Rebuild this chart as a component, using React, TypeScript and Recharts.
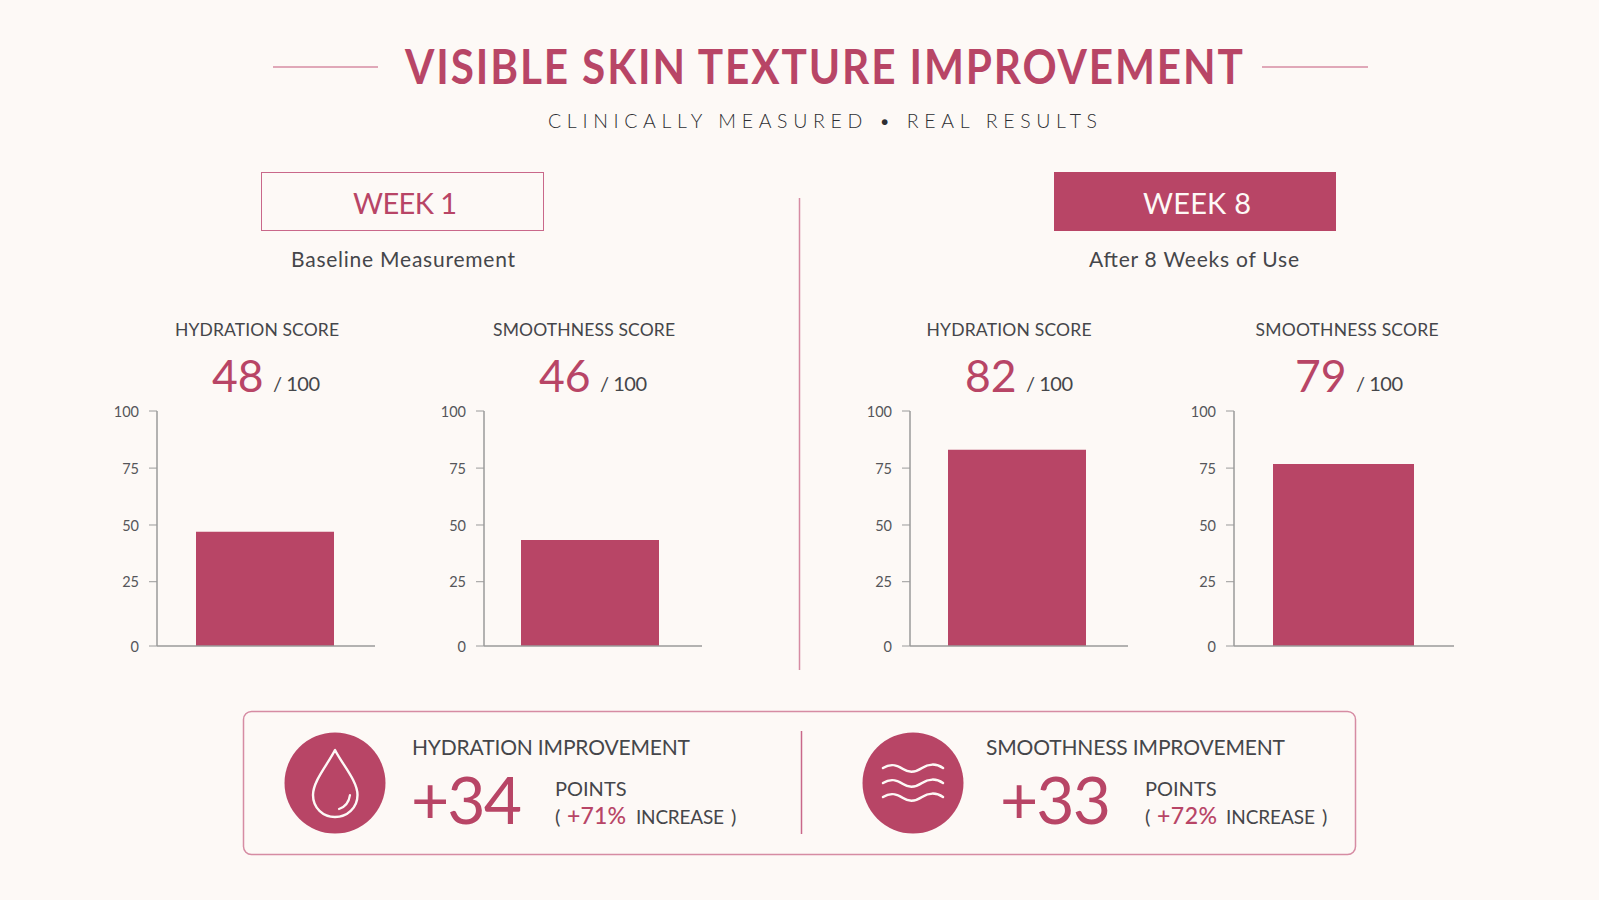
import React from "react";
import { BarChart, Bar, XAxis, YAxis } from "recharts";

const ROSE = "#B84566";
const INK = "#45464A";
const BG = "#FDF9F6";
const FONT = "Lato, 'Open Sans', sans-serif";

const yTicks = [0, 25, 50, 75, 100];
// The reference's axis is not evenly spaced: share of the axis height at each tick.
const tickShares = [0, 0.2736, 0.5149, 0.757, 1];
const chartNames = ["HYDRATION SCORE", "SMOOTHNESS SCORE", "HYDRATION SCORE", "SMOOTHNESS SCORE"];
const scoreLabels = ["48", "46", "82", "79"];
const barValues = [47, 43.4, 83, 76.8];
const axisLefts = [157, 484, 910, 1234];
const plotWidths = [218, 218, 218, 220];
const barShiftPads = [3, 6, 5, 2];
const barSizes = [138, 138, 138, 141];
const nameCenters = [257, 584, 1009, 1347];
const nameWidths = [164, 182, 165, 183];
const scoreLefts = [212, 539, 965, 1295];

function makeScale(dom: number[] = [0, 100], rng: number[] = [0, 1]): any {
  const s: any = (v: number) => {
    const t = ((v - dom[0]) / (dom[1] - dom[0])) * 100;
    let i = 0;
    while (i < yTicks.length - 2 && t > yTicks[i + 1]) i++;
    const f = (t - yTicks[i]) / (yTicks[i + 1] - yTicks[i]);
    const share = tickShares[i] + f * (tickShares[i + 1] - tickShares[i]);
    return rng[0] + share * (rng[1] - rng[0]);
  };
  s.domain = (d?: number[]) => (d ? makeScale(d.map(Number), rng) : dom);
  s.range = (r?: number[]) => (r ? makeScale(dom, r) : rng);
  s.copy = () => makeScale(dom, rng);
  return s;
}

function T({ x, y, size, fill = INK, anchor = "start", weight = 400, len, adjust = "spacing", children }: any) {
  return (
    <text
      x={x}
      y={y}
      fontSize={size}
      fill={fill}
      textAnchor={anchor}
      fontWeight={weight}
      fontFamily={FONT}
      textLength={len}
      lengthAdjust={len ? adjust : undefined}
    >
      {children}
    </text>
  );
}

function MiniChart({ value, left, name, pad, size, plot }: { value: number; left: number; name: string; pad: number; size: number; plot: number }) {
  return (
    <div style={{ position: "absolute", left: left - 60, top: 401 }}>
      <BarChart
        width={plot + 65}
        height={265}
        data={[{ name, value }]}
        margin={{ top: 10, right: 5, bottom: 19, left: 0 }}
      >
        <XAxis
          dataKey="name"
          tick={false}
          tickLine={false}
          height={1}
          padding={{ left: 0, right: pad }}
          axisLine={{ stroke: "#9A9A9A", strokeWidth: 1.5 }}
        />
        <YAxis
          domain={[0, 100]}
          scale={makeScale()}
          ticks={yTicks}
          width={60}
          interval={0}
          tickSize={8}
          tickMargin={10}
          tick={{ fontSize: 14.5, fill: "#55565A", fontFamily: FONT, dy: 0.5 }}
          tickLine={{ stroke: "#9A9A9A" }}
          axisLine={{ stroke: "#9A9A9A", strokeWidth: 1.5 }}
        />
        <Bar dataKey="value" fill={ROSE} barSize={size} isAnimationActive={false} />
      </BarChart>
    </div>
  );
}

export default function App() {
  return (
    <div style={{ position: "absolute", left: 0, top: 0, width: 1599, height: 900, background: BG, overflow: "hidden" }}>
      <svg width={1599} height={900} style={{ position: "absolute", left: 0, top: 0 }}>
        <line x1={273} x2={378} y1={67} y2={67} stroke="#D68CA3" strokeWidth={1.5} />
        <line x1={1262} x2={1368} y1={67} y2={67} stroke="#D68CA3" strokeWidth={1.5} />
        <text
          transform="translate(405 84) scale(0.9 1)"
          fontSize={47}
          fill={ROSE}
          fontWeight={700}
          fontFamily={FONT}
          textLength={931}
          lengthAdjust="spacing"
        >
          VISIBLE SKIN TEXTURE IMPROVEMENT
        </text>
        <T x={548} y={127.5} size={19.5} fill="#2E2F33" weight={300} len={549}>CLINICALLY MEASURED • REAL RESULTS</T>

        <rect x={261.5} y={172.5} width={282} height={58} fill="none" stroke="#C9688A" strokeWidth={1} />
        <rect x={1054} y={172} width={282} height={59} fill={ROSE} />
        <T x={405} y={214} size={29} fill={ROSE} anchor="middle" len={104}>WEEK 1</T>
        <T x={1197} y={214} size={29} fill="#FDF9F6" anchor="middle" len={108}>WEEK 8</T>
        <T x={403} y={267} size={21} anchor="middle" len={224}>Baseline Measurement</T>
        <T x={1194} y={267} size={21} anchor="middle" len={210}>After 8 Weeks of Use</T>
        <line x1={799.5} x2={799.5} y1={198} y2={670} stroke="#D68CA3" strokeWidth={1.5} />

        {chartNames.map((n, i) => (
          <T key={"n" + i} x={nameCenters[i]} y={336} size={17.5} anchor="middle" len={nameWidths[i]}>{n}</T>
        ))}
        {scoreLabels.map((s, i) => (
          <g key={"s" + i}>
            <T x={scoreLefts[i]} y={392} size={44.5} fill={ROSE}>{s}</T>
            <T x={scoreLefts[i] + 61} y={391} size={20} len={47}>/ 100</T>
          </g>
        ))}

        <rect x={243.5} y={711.5} width={1112} height={143} rx={8} fill="none" stroke="#D68CA3" strokeWidth={1.5} />
        <line x1={801.5} x2={801.5} y1={731} y2={834} stroke="#C9688A" strokeWidth={1.5} />

        <circle cx={335} cy={783} r={50.5} fill={ROSE} />
        <path
          d="M335 750 C328 764 313 781 313 795 C313 808 323 817 335 817 C347 817 357.5 808 357.5 795 C357.5 781 342 764 335 750 Z"
          fill="none"
          stroke="#FDF9F6"
          strokeWidth={2.4}
          strokeLinejoin="round"
        />
        <path d="M339 809 C345 807 349 802 350 795" fill="none" stroke="#FDF9F6" strokeWidth={2.2} strokeLinecap="round" />

        <circle cx={913} cy={783} r={50.5} fill={ROSE} />
        {[768, 783, 797].map((wy) => (
          <path
            key={wy}
            d={`M883 ${wy} C891 ${wy - 5} 897 ${wy - 3} 903 ${wy + 1} C909 ${wy + 5} 916 ${wy + 4} 922 ${wy} C928 ${wy - 4} 936 ${wy - 5} 943 ${wy}`}
            fill="none"
            stroke="#FDF9F6"
            strokeWidth={2.5}
            strokeLinecap="round"
          />
        ))}

        <T x={412} y={755} size={21} len={278}>HYDRATION IMPROVEMENT</T>
        <T x={411} y={824} size={66} fill={ROSE} len={111}>+34</T>
        <T x={555} y={796} size={20}>POINTS</T>
        <T x={555} y={824} size={20}>(</T>
        <T x={567} y={824} size={23} fill={ROSE} weight={500} len={59}>+71%</T>
        <T x={636} y={824} size={19} len={88}>INCREASE</T>
        <T x={731} y={824} size={20}>)</T>

        <T x={986} y={755} size={21} len={299}>SMOOTHNESS IMPROVEMENT</T>
        <T x={1000} y={824} size={66} fill={ROSE} len={111}>+33</T>
        <T x={1145} y={796} size={20}>POINTS</T>
        <T x={1145} y={824} size={20}>(</T>
        <T x={1157} y={824} size={23} fill={ROSE} weight={500} len={60}>+72%</T>
        <T x={1226} y={824} size={19} len={89}>INCREASE</T>
        <T x={1322} y={824} size={20}>)</T>
      </svg>
      {barValues.map((v, i) => (
        <MiniChart key={i} value={v} left={axisLefts[i]} name={chartNames[i]} pad={barShiftPads[i]} size={barSizes[i]} plot={plotWidths[i]} />
      ))}
    </div>
  );
}
